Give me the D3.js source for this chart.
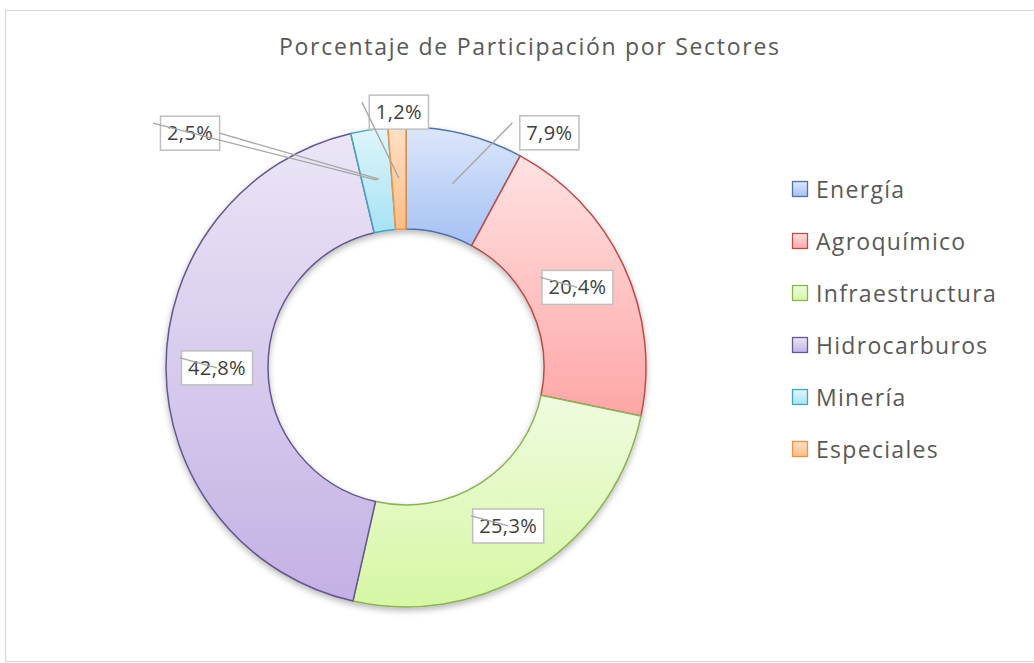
<!DOCTYPE html>
<html>
<head>
<meta charset="utf-8">
<script src="https://cdn.jsdelivr.net/npm/d3@7"></script>
<style>
  html, body { margin: 0; padding: 0; background: #fff; }
  svg { display: block; }
</style>
</head>
<body>
<svg id="chart" width="1034" height="663"></svg>
<script>
// Sector shares (percent)
const sectors = ["Energía", "Agroquímico", "Infraestructura", "Hidrocarburos", "Minería", "Especiales"];
const shares = [7.9, 20.4, 25.3, 42.8, 2.5, 1.2];
const valueLabels = ["7,9%", "20,4%", "25,3%", "42,8%", "2,5%", "1,2%"];
const chartTitle = "Porcentaje de Participación por Sectores";

// Fill gradient stops (light, dark) and outline per sector
const fillLight = ["#dce6fa", "#ffe2e2", "#effbdf", "#ece5f6", "#dff5fb", "#fde0c6"];
const fillDark  = ["#a5c1f4", "#ffa6a6", "#d6f7a4", "#c3b1e4", "#a6e3f3", "#fbbd85"];
const outline   = ["#4f6fa8", "#be4b48", "#8db255", "#65568f", "#45a3bf", "#f0923f"];

const svg = d3.select("#chart");
const W = 1034, H = 663;
const cx = 406, cy = 367, rOuter = 240, rInner = 138;
const font = "'Open Sans', 'Noto Sans', sans-serif";

const defs = svg.append("defs");
sectors.forEach((s, i) => {
  const g = defs.append("linearGradient")
    .attr("id", "grad" + i).attr("x1", 0).attr("y1", 0).attr("x2", 0).attr("y2", 1);
  g.append("stop").attr("offset", "0%").attr("stop-color", fillLight[i]);
  g.append("stop").attr("offset", "100%").attr("stop-color", fillDark[i]);
});
const shadow = defs.append("filter").attr("id", "shadow")
  .attr("x", "-20%").attr("y", "-20%").attr("width", "140%").attr("height", "140%");
shadow.append("feDropShadow").attr("dx", 0).attr("dy", 3).attr("stdDeviation", 3)
  .attr("flood-color", "#000").attr("flood-opacity", 0.28);

// Chart area frame
svg.append("rect")
  .attr("x", 5.5).attr("y", 10.5).attr("width", W + 20).attr("height", H - 12)
  .attr("fill", "#fff").attr("stroke", "#d9d9d9").attr("stroke-width", 1.2);

// Title
svg.append("text")
  .attr("x", 529).attr("y", 55)
  .attr("text-anchor", "middle")
  .attr("font-family", font).attr("font-size", 23)
  .attr("fill", "#595959")
  .attr("textLength", 500).attr("lengthAdjust", "spacing")
  .text(chartTitle);

// Doughnut
const pie = d3.pie().sort(null).value(d => d.value);
const data = sectors.map((s, i) => ({ name: s, value: shares[i], label: valueLabels[i], i }));
const arcs = pie(data);
const arc = d3.arc().innerRadius(rInner).outerRadius(rOuter);
const midArc = d3.arc().innerRadius((rInner + rOuter) / 2).outerRadius((rInner + rOuter) / 2);

const ring = svg.append("g").attr("transform", `translate(${cx},${cy})`);
ring.append("g").attr("filter", "url(#shadow)")
  .selectAll("path").data(arcs).join("path")
  .attr("d", arc)
  .attr("fill", d => `url(#grad${d.data.i})`)
  .attr("stroke", d => outline[d.data.i])
  .attr("stroke-width", 1.5)
  .attr("stroke-linejoin", "round");

// Data labels: offset of the label box from the slice centroid
const labelShift = [[97, -51], [0, 0], [0, 0], [0, 0], [-187, -47], [0, -66]];
const labelG = svg.append("g").attr("transform", `translate(${cx},${cy})`);
const boxes = [];
arcs.forEach((d, k) => {
  const [mx, my] = midArc.centroid(d);
  const lx = mx + labelShift[k][0], ly = my + labelShift[k][1];
  const t = labelG.append("text")
    .attr("x", lx).attr("y", ly + 7)
    .attr("text-anchor", "middle")
    .attr("font-family", font).attr("font-size", 20)
    .attr("letter-spacing", 0.4)
    .attr("fill", "#404040")
    .text(d.data.label);
  const w = t.node().getComputedTextLength() + 13;
  boxes.push({ lx, ly, mx, my, w, t });
});
boxes.forEach(b => {
  labelG.insert("rect", "text")
    .attr("x", b.lx - b.w / 2).attr("y", b.ly - 17)
    .attr("width", b.w).attr("height", 34)
    .attr("fill", "#fff").attr("stroke", "#bfbfbf").attr("stroke-width", 1.5);
});
// Leader lines run from just outside the box's upper-left to the slice centroid
boxes.forEach((b, k) => {
  labelG.append("line")
    .attr("x1", b.lx - 37).attr("y1", b.ly - 10)
    .attr("x2", b.mx).attr("y2", b.my)
    .attr("stroke", "#a6a6a6").attr("stroke-width", 1.3);
  if (labelShift[k][0] < -100) {
    labelG.append("line")
      .attr("x1", b.lx + b.w / 2).attr("y1", b.ly)
      .attr("x2", b.mx + 2).attr("y2", b.my - 1)
      .attr("stroke", "#a6a6a6").attr("stroke-width", 1.3);
  }
});

// Legend
const legendY = d3.scalePoint().domain(sectors).range([189, 449]);
const legend = svg.append("g");
const rows = legend.selectAll("g").data(data).join("g")
  .attr("transform", d => `translate(792,${legendY(d.name)})`);
rows.append("rect")
  .attr("x", 0.5).attr("y", -7.5).attr("width", 15).attr("height", 15)
  .attr("fill", d => `url(#grad${d.i})`)
  .attr("stroke", d => outline[d.i]).attr("stroke-width", 1.3);
rows.append("text")
  .attr("x", 24).attr("y", 8.5)
  .attr("font-family", font).attr("font-size", 23)
  .attr("letter-spacing", 1.3)
  .attr("fill", "#595959")
  .text(d => d.name);
</script>
</body>
</html>
